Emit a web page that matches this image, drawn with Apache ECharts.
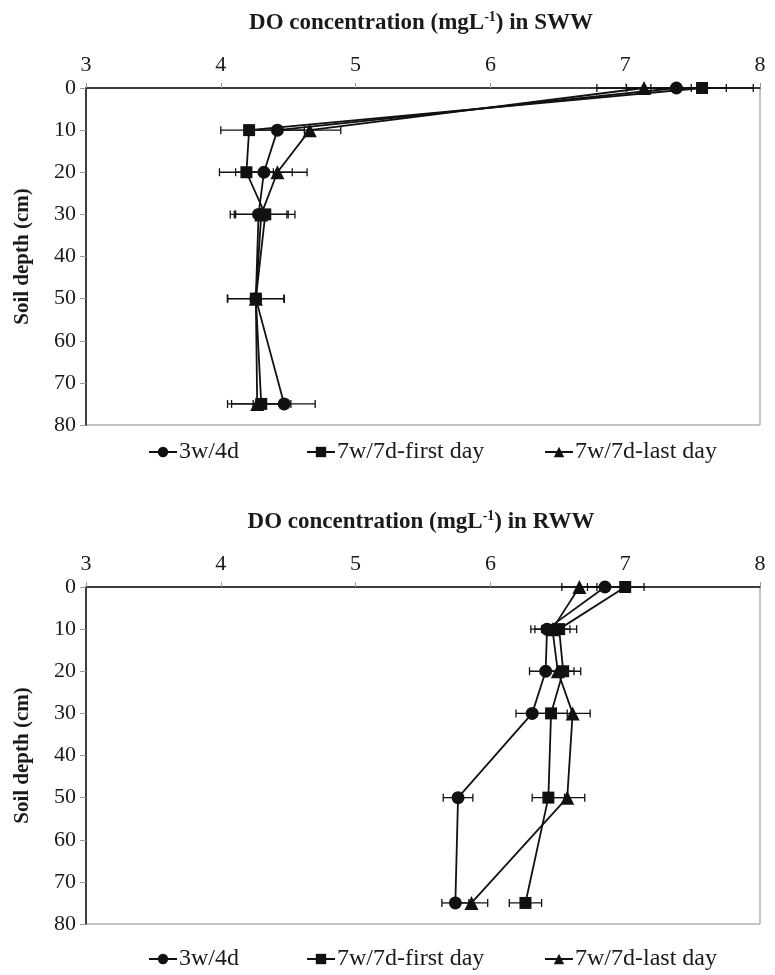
<!DOCTYPE html>
<html>
<head>
<meta charset="utf-8">
<script src="https://cdn.jsdelivr.net/npm/echarts@6/dist/echarts.min.js"></script>
<style>
  html, body { margin: 0; padding: 0; background: #fff; }
  #chart { width: 775px; height: 975px; }
</style>
</head>
<body>
<div id="chart"></div>
<script>
// Soil depths (cm) where dissolved oxygen was sampled
const depths = [0, 10, 20, 30, 50, 75];

// Treatment names and their markers
const treatments = ['3w/4d', '7w/7d-first day', '7w/7d-last day'];
const markers = ['circle', 'rect', 'triangle'];

// DO (mg/L) in SWW plots, with standard errors
const swwThreeFour = [7.38, 4.42, 4.32, 4.28, 4.26, 4.47];
const swwThreeFourErr = [0.37, 0.20, 0.21, 0.21, 0.21, 0.23];
const swwFirstDay = [7.57, 4.21, 4.19, 4.33, 4.26, 4.30];
const swwFirstDayErr = [0.38, 0.21, 0.20, 0.22, 0.21, 0.22];
const swwLastDay = [7.14, 4.66, 4.42, 4.30, 4.26, 4.27];
const swwLastDayErr = [0.35, 0.23, 0.22, 0.20, 0.21, 0.22];

// DO (mg/L) in RWW plots, with standard errors
const rwwThreeFour = [6.85, 6.42, 6.41, 6.31, 5.76, 5.74];
const rwwThreeFourErr = [0.13, 0.12, 0.12, 0.12, 0.11, 0.10];
const rwwFirstDay = [7.00, 6.51, 6.54, 6.45, 6.43, 6.26];
const rwwFirstDayErr = [0.14, 0.13, 0.13, 0.12, 0.12, 0.12];
const rwwLastDay = [6.66, 6.46, 6.50, 6.61, 6.57, 5.86];
const rwwLastDayErr = [0.13, 0.13, 0.12, 0.13, 0.13, 0.12];

// Axis ranges and tick steps
const doMin = 3, doMax = 8, doStep = 1;
const depthMin = 0, depthMax = 80, depthStep = 10;

const panels = [
  { water: 'SWW', values: [swwThreeFour, swwFirstDay, swwLastDay],
    errors: [swwThreeFourErr, swwFirstDayErr, swwLastDayErr] },
  { water: 'RWW', values: [rwwThreeFour, rwwFirstDay, rwwLastDay],
    errors: [rwwThreeFourErr, rwwFirstDayErr, rwwLastDayErr] }
];

const FONT = 'Liberation Serif';
const INK = '#111';
const TEXT = '#1a1a1a';

const gridTops = [88, 587];
const gridHeight = 337;
const legendTops = [435, 942];
const titleYs = [23, 522];
const legendLefts = [143, 301, 539];

function renderErrorBar(params, api) {
  const v = api.value(0), d = api.value(1), e = api.value(2);
  const a = api.coord([v - e, d]);
  const b = api.coord([v + e, d]);
  const h = 4;
  const st = { stroke: INK, lineWidth: 1.3 };
  return {
    type: 'group',
    children: [
      { type: 'line', shape: { x1: a[0], y1: a[1], x2: b[0], y2: b[1] }, style: st },
      { type: 'line', shape: { x1: a[0], y1: a[1] - h, x2: a[0], y2: a[1] + h }, style: st },
      { type: 'line', shape: { x1: b[0], y1: b[1] - h, x2: b[0], y2: b[1] + h }, style: st }
    ]
  };
}

const grids = [], xAxes = [], yAxes = [], series = [], legends = [], graphics = [];

panels.forEach((p, g) => {
  grids.push({
    left: 86, right: 15, top: gridTops[g], height: gridHeight,
    outerBoundsMode: 'none', containLabel: false,
    show: true, borderColor: '#8a8a8a', borderWidth: 1, backgroundColor: 'transparent'
  });
  xAxes.push({
    type: 'value', gridIndex: g, position: 'top',
    min: doMin, max: doMax, interval: doStep,
    axisLine: { show: true, onZero: false, lineStyle: { color: INK, width: 1.5 } },
    axisTick: { show: true, inside: false, length: 5, lineStyle: { color: '#9a9a9a', width: 1 } },
    axisLabel: { fontFamily: FONT, fontSize: 22, color: TEXT, margin: 12 },
    splitLine: { show: false }
  });
  yAxes.push({
    type: 'value', gridIndex: g, inverse: true,
    min: depthMin, max: depthMax, interval: depthStep,
    name: 'Soil depth (cm)', nameLocation: 'middle', nameGap: 53, nameRotate: 90,
    nameTextStyle: { fontFamily: FONT, fontSize: 21, fontWeight: 'bold', color: TEXT },
    axisLine: { show: true, onZero: false, lineStyle: { color: INK, width: 1.5 } },
    axisTick: { show: true, inside: false, length: 6, lineStyle: { color: '#9a9a9a', width: 1 } },
    axisLabel: { fontFamily: FONT, fontSize: 22, color: TEXT, margin: 10 },
    splitLine: { show: false }
  });

  treatments.forEach((name, k) => {
    const vals = p.values[k], errs = p.errors[k];
    series.push({
      type: 'custom', name: 'se-' + p.water + '-' + k,
      xAxisIndex: g, yAxisIndex: g, z: 2, silent: true, clip: false,
      renderItem: renderErrorBar,
      encode: { x: 0, y: 1 },
      data: depths.map((d, i) => [vals[i], d, errs[i]])
    });
    series.push({
      type: 'line', name: name,
      xAxisIndex: g, yAxisIndex: g, z: 3,
      symbol: markers[k], symbolSize: k === 2 ? 14 : (k === 1 ? 12 : 13),
      showAllSymbol: true, clip: false,
      lineStyle: { color: INK, width: 1.8 },
      itemStyle: { color: INK },
      data: depths.map((d, i) => [vals[i], d])
    });
  });

  treatments.forEach((name, k) => {
    legends.push({
      data: [name], left: legendLefts[k], top: legendTops[g],
      itemWidth: 28, itemHeight: 13, selectedMode: false,
      textStyle: { fontFamily: FONT, fontSize: 24, color: TEXT, padding: [0, 0, 0, -3] }
    });
  });

  graphics.push({
    type: 'text', x: 421, y: titleYs[g],
    style: {
      text: '{b|DO concentration (mgL}{s|-1}{b|) in ' + p.water + '}',
      align: 'center', verticalAlign: 'middle',
      rich: {
        b: { fontFamily: FONT, fontSize: 23, fontWeight: 'bold', fill: TEXT, lineHeight: 26 },
        s: { fontFamily: FONT, fontSize: 14, fontWeight: 'bold', fill: TEXT, lineHeight: 14, verticalAlign: 'top' }
      }
    }
  });
});

const chart = echarts.init(document.getElementById('chart'), null, { renderer: 'canvas' });
chart.setOption({
  animation: false,
  backgroundColor: '#fff',
  grid: grids,
  xAxis: xAxes,
  yAxis: yAxes,
  legend: legends,
  graphic: graphics,
  series: series
});
</script>
</body>
</html>
